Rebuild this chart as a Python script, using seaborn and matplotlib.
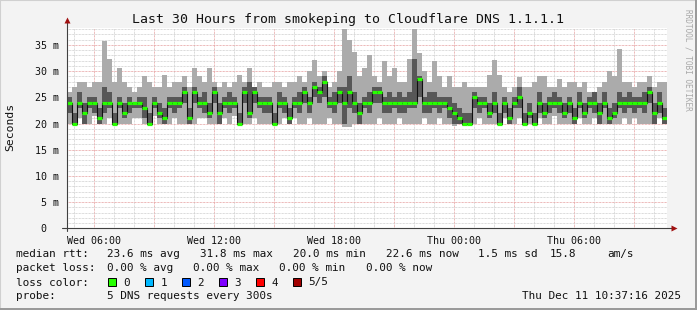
import numpy as np
import pandas as pd
import matplotlib
matplotlib.use("Agg")
import matplotlib.pyplot as plt
import seaborn as sns
from matplotlib.patches import Rectangle

# ---------------- data (milliseconds, 15-minute steps) ----------------
median_ms = [24,20,24,22,24,24,21,24,24,20,24,22,24,24,24,23,20,24,22,21,
             24,24,24,26,21,26,24,24,22,26,22,24,24,24,20,26,22,26,24,24,
             24,20,24,24,21,24,24,26,24,27,26,28,24,24,26,24,26,24,22,24,
             24,26,26,24,24,24,24,24,24,24,28.5,24,24,24,24,24,23,22,21,20,
             20,25,24,24,22,24,20,24,21,24,25,20,22,20,24,22,24,24,24,22,
             24,21,24,22,24,24,22,24,21,22,24,24,24,24,24,24,26,22,24,21]
ping_max_ms = [26,27,28,28,27,28,28,35.7,32.4,28,30.5,28,27,26,27,29,28,27,27,29.3,
               27,28,28,29,27,30.5,29,28,30.5,28,27,28,27,28,29.3,28,30.5,27,28,27,
               27,28,28,27,28,28,29,28,30,32.2,29,30,27,28,30,38,36,33.6,29,30.5,
               33,29,28,32,29,30.5,28,28,32.4,38,33.4,30,28,32,29,27,29,27,27,28,
               27,27,27,27,29.3,32.2,29.3,27,26,27,28.8,27,27,28,29,29,27,27,28.5,27,
               28,28,27,28,26,26,27,28,30,29,34.3,28,28,27,28,28,29,27,28,28]
ping_min_ms = [20,20,21,20,20,21.5,20,20,21,20,20,20,20,21,21,20,20,21.5,20,20,
               20,21,20,20,20,20,21,21,20,20,20,21,20,21.5,20,20,20,21,20,20,
               20,20,20,21,20,21,20,20,21,20,20,20,21,20,20,19.3,19.3,20,20,20,
               20,20,21,20,20,20,21,20,20,20,20,21,20,20,21,20,20,19.5,20,19.5,
               20,20,21,20,20,20,20,21,20,20,21,20,20,20,21,20,20,21.5,20,20,
               20,20,21,20,20,21,20,20,20,20,20,21,20,21,20,20,20,20,21,20]
ping_lo_ms = [22,20,23,20,23,22,20,22,23,20,23,21,22,23,23,21,20,23,21,20,
              23,22,23,24,20,24,23,22,21,24,20,23,22,23,20,24,21,24,23,22,
              22,20,23,22,20,23,22,24,22,25,24,25,23,22,24,20,23,22,20,23,
              22,24,24,22,22,23,22,22,23,23,25,22,22,23,22,23,21,20,20,20,
              20,23,22,23,21,22,20,22,20,23,23,20,21,20,22,21,22,23,22,21,
              22,20,23,21,23,22,20,23,20,21,23,22,23,22,23,22,24,20,22,20]
ping_hi_ms = [25,22,26,24,25,25,23,27,26,22,25,24,25,24,25,25,22,25,24,23,
              25,25,25,27,23,27,25,26,24,27,24,25,26,25,22,27,28,27,25,25,
              25,22,26,25,23,25,26,27,25,28,27,29,25,26,27,27,29,26,24,25,
              26,27,27,25,26,25,26,25,26,32.4,29,25,26,26,25,25,25,24,23,22,
              22,26,25,25,24,26,22,25,23,25,27,22,24,22,26,24,25,26,25,24,
              25,23,26,24,25,26,24,26,23,24,26,25,26,25,25,26,27,24,26,23]

start_hour = 4 + 37 / 60 + 16 / 3600     # Wed 04:37:16
step_hours = 0.25
tick_hours = [6, 12, 18, 24, 30]
tick_labels = ["Wed 06:00", "Wed 12:00", "Wed 18:00", "Thu 00:00", "Thu 06:00"]
ytick_vals = [0, 5, 10, 15, 20, 25, 30, 35]
ytick_labels = ["0  ", "5 m", "10 m", "15 m", "20 m", "25 m", "30 m", "35 m"]

loss_labels = ["0", "1", "2", "3", "4", "5/5"]
loss_colors = ["#26ff00", "#00b8ff", "#0059ff", "#7e00ff", "#ff0000", "#a10000"]

# ---------------- figure ----------------
sns.set_style("white")
plt.rcParams["font.family"] = ["DejaVu Sans Mono"]

W, H = 697, 310
fig = plt.figure(figsize=(W / 100, H / 100), dpi=100, facecolor="#f3f3f3")

def fx(px):
    return px / W

def fy(py):
    return 1 - py / H

ax_l, ax_r, ax_t, ax_b = 66.7, 666.7, 28.0, 228.3
ax = fig.add_axes([fx(ax_l), fy(ax_b), (ax_r - ax_l) / W, (ax_b - ax_t) / H])
ax.set_facecolor("white")

n = len(median_ms)
edges = start_hour + step_hours * np.arange(n + 1)
end_hour = edges[-1]
ymax = (ax_b - ax_t) / 26.2 * 5

def ext(a):
    a = np.asarray(a, float)
    return np.append(a, a[-1])

# grid
dot = (0, (0.72, 0.72))
for h in range(int(np.ceil(start_hour)), int(end_hour) + 1):
    major = h % 3 == 0
    ax.axvline(h, color="#e6a0a0" if major else "#cfcfcf", lw=0.72, ls=dot, zorder=0)
for v in range(1, int(ymax) + 1):
    major = v % 5 == 0
    ax.axhline(v, color="#e6a0a0" if major else "#cfcfcf", lw=0.72, ls=dot, zorder=0)

# smoke
ax.fill_between(edges, ext(ping_min_ms), ext(ping_max_ms), step="post",
                color="#ababab", lw=0, zorder=2)
ax.fill_between(edges, ext(ping_lo_ms), ext(ping_hi_ms), step="post",
                color="#575757", lw=0, zorder=3)

df = pd.DataFrame({"t": edges, "median": ext(median_ms)})
sns.lineplot(data=df, x="t", y="median", drawstyle="steps-post",
             color="#101010", lw=0.8, ax=ax, zorder=4)
ax.hlines(median_ms, edges[:-1], edges[1:], colors=loss_colors[0], lw=2.3, zorder=5)

ax.set_xlim(start_hour, end_hour)
ax.set_ylim(0, ymax)
ax.set_xlabel("")
ax.set_ylabel("")
for s in ax.spines.values():
    s.set_visible(False)

xt = list(range(6, 34, 3))
ax.set_xticks(xt)
ax.set_xticklabels([tick_labels[tick_hours.index(h)] if h in tick_hours else "" for h in xt],
                   fontsize=7.2)
ax.set_yticks(ytick_vals)
ax.set_yticklabels(ytick_labels, fontsize=7.2)
ax.tick_params(axis="x", length=2.2, width=0.72, color="#e08080", pad=3, labelcolor="#111111")
ax.tick_params(axis="y", length=2.5, width=0.72, color="#e08080", pad=3, labelcolor="#111111")

# axes lines with arrows
ax.plot([-0.008, 1.01], [0, 0], transform=ax.transAxes, color="#404040",
        lw=0.8, clip_on=False, zorder=6)
ax.plot([0, 0], [-0.015, 1.04], transform=ax.transAxes, color="#404040",
        lw=0.8, clip_on=False, zorder=6)
ax.plot([1.012], [0], marker=">", ms=4, color="#a01010", transform=ax.transAxes,
        clip_on=False, zorder=7, mec="none")
ax.plot([0], [1.04], marker="^", ms=4, color="#a01010", transform=ax.transAxes,
        clip_on=False, zorder=7, mec="none")

# texts
fig.text(fx(348), fy(19), "Last 30 Hours from smokeping to Cloudflare DNS 1.1.1.1",
         ha="center", va="center", fontsize=9.5, color="#111111")
fig.text(fx(10), fy(127), "Seconds", rotation=90, ha="center", va="center",
         fontsize=8.2, color="#111111")
fig.text(fx(688), fy(60), "RRDTOOL / TOBI OETIKER", rotation=270, ha="center",
         va="center", fontsize=5.6, color="#a8a8a8")

lfs = 7.95
row1 = [(16, "median rtt:"), (107.3, "23.6 ms avg"), (200, "31.8 ms max"),
        (293.3, "20.0 ms min"), (386, "22.6 ms now"), (478.3, "1.5 ms sd"),
        (549.3, "15.8"), (607.7, "am/s")]
row2 = [(16, "packet loss:"), (107.3, "0.00 % avg"), (193.3, "0.00 % max"),
        (279.3, "0.00 % min"), (366, "0.00 % now")]
for x, s in row1:
    fig.text(fx(x), fy(254.3), s, ha="left", va="center", fontsize=lfs, color="#111111")
for x, s in row2:
    fig.text(fx(x), fy(268.3), s, ha="left", va="center", fontsize=lfs, color="#111111")

fig.text(fx(16), fy(282.5), "loss color:", ha="left", va="center", fontsize=lfs, color="#111111")
for i, (lab, col) in enumerate(zip(loss_labels, loss_colors)):
    bx = 108.3 + 37 * i
    fig.patches.append(Rectangle((fx(bx), fy(286.0)), 7.5 / W, 7.7 / H,
                                 transform=fig.transFigure, facecolor=col,
                                 edgecolor="#000000", lw=0.7))
    fig.text(fx(bx + 15), fy(282.5), lab, ha="left", va="center", fontsize=lfs, color="#111111")

fig.text(fx(16), fy(296.3), "probe:", ha="left", va="center", fontsize=lfs, color="#111111")
fig.text(fx(107.3), fy(296.3), "5 DNS requests every 300s", ha="left", va="center",
         fontsize=lfs, color="#111111")
fig.text(fx(681), fy(296.3), "Thu Dec 11 10:37:16 2025", ha="right", va="center",
         fontsize=lfs, color="#111111")

# 3D-ish frame
fig.patches.append(Rectangle((0, 0), 1, 1, transform=fig.transFigure, fill=False,
                             edgecolor="#d0d0d0", lw=1.5))
fig.patches.append(Rectangle((fx(0), fy(310)), 1, 2 / H, transform=fig.transFigure,
                             facecolor="#9a9a9a", edgecolor="none"))
fig.patches.append(Rectangle((fx(695), 0), 2 / W, 1, transform=fig.transFigure,
                             facecolor="#9a9a9a", edgecolor="none"))

fig.savefig("out.png", dpi=100, facecolor=fig.get_facecolor())
